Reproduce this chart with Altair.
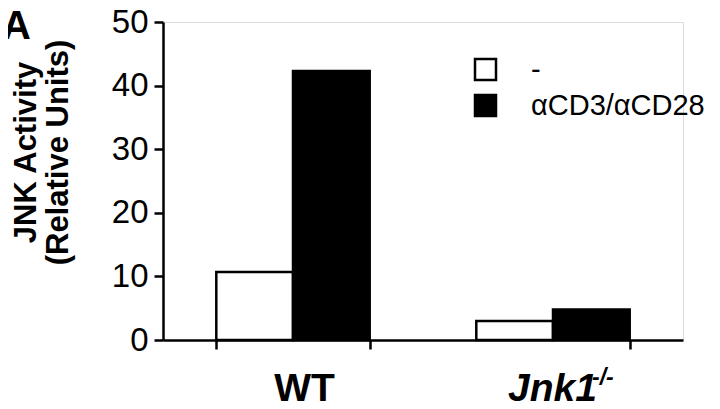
import altair as alt
import pandas as pd

groups = ["WT", "WT", "Jnk1", "Jnk1"]
conditions = ["-", "αCD3/αCD28", "-", "αCD3/αCD28"]
values = [10.7, 42.3, 3.0, 4.8]
group_order = ["WT", "Jnk1"]
cond_order = ["-", "αCD3/αCD28"]
fills = ["white", "black"]
y_ticks = [0, 10, 20, 30, 40, 50]

df = pd.DataFrame({"group": groups, "cond": conditions, "value": values})
FONT = "Liberation Sans"

xscale = alt.Scale(domain=group_order, paddingInner=0.41, paddingOuter=0.205)

bars = alt.Chart(df).mark_bar(stroke="black", strokeWidth=2.5).encode(
    x=alt.X("group:N", scale=xscale, sort=group_order,
            axis=alt.Axis(
                title=None, labelAngle=0, tickBand="extent", tickSize=9,
                tickWidth=2.5, domainWidth=2.5, domainColor="black", tickColor="black",
                labelFont=FONT, labelFontSize=39, labelFontWeight="bold",
                labelColor="black", labelBaseline="alphabetic", labelPadding=51,
                labelFontStyle={"condition": {"test": "datum.value === 'Jnk1'", "value": "italic"}, "value": "normal"},
                labelOffset={"condition": {"test": "datum.value === 'WT'", "value": 11}, "value": -1},
            )),
    xOffset=alt.XOffset("cond:N", sort=cond_order, scale=alt.Scale(domain=cond_order)),
    y=alt.Y("value:Q", scale=alt.Scale(domain=[0, 50], nice=False),
            axis=alt.Axis(
                values=y_ticks, grid=False, tickSize=9, tickWidth=2.5, domainWidth=2.5,
                domainColor="black", tickColor="black",
                labelFont=FONT, labelFontSize=33, labelColor="black", labelPadding=6,
                title=["JNK Activity", "(Relative Units)"], titleFont=FONT,
                titleFontSize=31, titleFontWeight="bold", titleColor="black",
                titleX=-128, titleY=130, titleAngle=270, titleBaseline="alphabetic",
                titleAlign="center", titleLineHeight=32,
            )),
    fill=alt.Fill("cond:N", sort=cond_order,
                  scale=alt.Scale(domain=cond_order, range=fills),
                  legend=alt.Legend(
                      title=None, orient="none", legendX=308, legendY=33,
                      symbolType="square", symbolSize=441, symbolStrokeWidth=2.5,
                      symbolStrokeColor="black", labelFont=FONT, labelFontSize=29,
                      labelColor="black", labelOffset=31, rowPadding=5, padding=0,
                      labelLimit=400,
                  )),
)

sup_df = pd.DataFrame({"group": ["Jnk1"], "t": ["-/-"]})
sup = alt.Chart(sup_df).mark_text(
    align="left", baseline="alphabetic", dx=39, font=FONT, fontSize=23,
    fontStyle="italic", fontWeight="bold", color="black",
).encode(x=alt.X("group:N", scale=xscale, sort=group_order), y=alt.value(363), text="t:N")

panel_df = pd.DataFrame({"t": ["A"]})
panel = alt.Chart(panel_df).mark_text(
    align="left", baseline="alphabetic", font=FONT, fontSize=40, fontWeight="bold", color="black",
).encode(x=alt.value(-161), y=alt.value(17), text="t:N")

chart = alt.layer(bars, sup, panel).properties(
    width=520, height=318,
    autosize=alt.AutoSizeParams(type="none"),
    padding={"left": 155, "top": 14, "right": 29, "bottom": 70},
).configure_view(stroke=None).configure(background="white")

chart.save("out.html", embed_options={"renderer": "svg", "actions": False})
